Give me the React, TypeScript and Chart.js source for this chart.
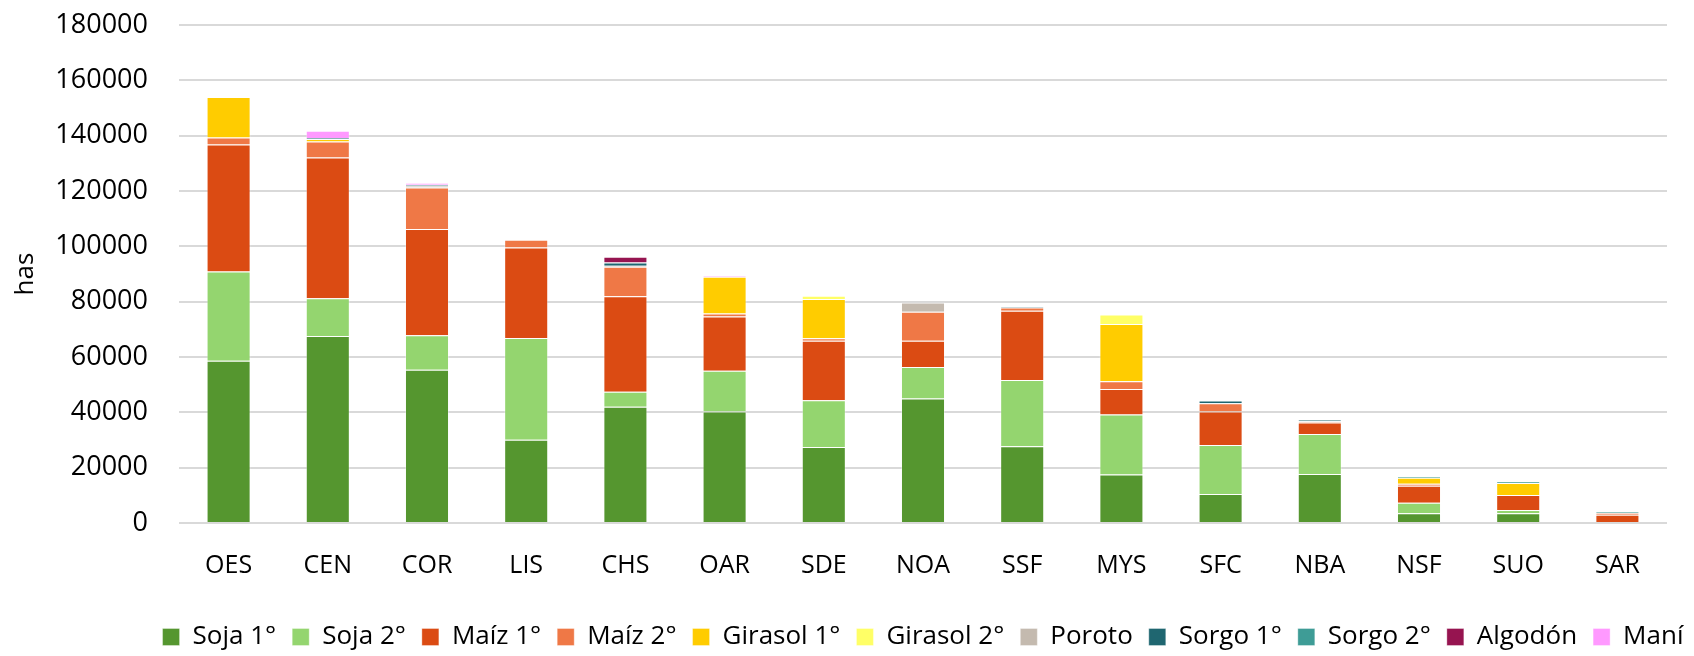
import React, { useEffect, useRef } from "react";
import { Chart, registerables } from "chart.js";

Chart.register(...registerables);

const regions = ["OES", "CEN", "COR", "LIS", "CHS", "OAR", "SDE", "NOA", "SSF", "MYS", "SFC", "NBA", "NSF", "SUO", "SAR"];

const soja1 = [58600, 67600, 55400, 30100, 42000, 40300, 27500, 45000, 27700, 17500, 10500, 17700, 3500, 3500, 0];
const soja2 = [32300, 13600, 12500, 36800, 5400, 14700, 16900, 11400, 24000, 21700, 17700, 14500, 3800, 1200, 0];
const maiz1 = [45900, 50900, 38400, 32700, 34600, 19600, 21500, 9500, 25000, 9200, 12100, 4100, 6200, 5400, 3000];
const maiz2 = [2550, 5800, 15000, 2800, 10600, 1100, 900, 10500, 1200, 2800, 3000, 500, 700, 0, 700];
const girasol1 = [14600, 900, 0, 0, 0, 13300, 14200, 0, 0, 20700, 0, 0, 2200, 4400, 0];
const girasol2 = [0, 0, 0, 0, 0, 0, 1100, 0, 0, 3500, 0, 0, 0, 0, 0];
const poroto = [0, 0, 600, 0, 400, 0, 0, 3300, 0, 0, 0, 0, 0, 0, 0];
const sorgo1 = [0, 400, 400, 0, 1200, 0, 0, 0, 300, 0, 1000, 500, 0, 0, 0];
const sorgo2 = [0, 0, 0, 0, 0, 0, 0, 0, 0, 0, 0, 0, 400, 500, 500];
const algodon = [0, 0, 0, 0, 2000, 0, 0, 0, 0, 0, 0, 0, 0, 0, 0];
const mani = [0, 2600, 600, 0, 0, 300, 0, 0, 0, 0, 0, 0, 0, 0, 0];

const yTicks = [0, 20000, 40000, 60000, 80000, 100000, 120000, 140000, 160000, 180000];

const series = [
  { label: "Soja 1°", data: soja1, color: "#55962F" },
  { label: "Soja 2°", data: soja2, color: "#94D56F" },
  { label: "Maíz 1°", data: maiz1, color: "#DB4B13" },
  { label: "Maíz 2°", data: maiz2, color: "#EF7846" },
  { label: "Girasol 1°", data: girasol1, color: "#FFCC00" },
  { label: "Girasol 2°", data: girasol2, color: "#FFFF66" },
  { label: "Poroto", data: poroto, color: "#C4BAAF" },
  { label: "Sorgo 1°", data: sorgo1, color: "#1F6670" },
  { label: "Sorgo 2°", data: sorgo2, color: "#3E9C96" },
  { label: "Algodón", data: algodon, color: "#961450" },
  { label: "Maní", data: mani, color: "#FF99FF" },
];

const FONT = "'Open Sans', 'DejaVu Sans', sans-serif";

const legendShift = {
  id: "legendShift",
  afterLayout(chart: any) {
    const lg = chart.legend;
    if (!lg) return;
    const dx = (chart.chartArea.left + chart.chartArea.right) / 2 - (lg.left + lg.right) / 2;
    lg.left += dx;
    lg.right += dx;
    if (lg.legendHitBoxes) lg.legendHitBoxes.forEach((b: any) => (b.left += dx));
  },
};

export default function App() {
  const ref = useRef<HTMLCanvasElement | null>(null);

  useEffect(() => {
    if (!ref.current) return;
    const chart = new Chart(ref.current, {
      type: "bar",
      data: {
        labels: regions,
        datasets: series.map((s) => ({
          label: s.label,
          data: s.data.map((v) => (v ? v : null)),
          backgroundColor: s.color,
          borderColor: "rgba(255,255,255,0.35)",
          borderWidth: 1,
          categoryPercentage: 1,
          barPercentage: 0.444,
        })),
      },
      plugins: [legendShift],
      options: {
        responsive: false,
        animation: false,
        layout: { padding: { left: 0, right: 27, top: 25, bottom: -4 } },
        plugins: {
          legend: {
            position: "bottom",
            labels: {
              font: { family: FONT, size: 26 },
              color: "#000",
              boxWidth: 17,
              boxHeight: 17,
              padding: 16,
            },
          },
          tooltip: { enabled: false },
        },
        scales: {
          x: {
            stacked: true,
            grid: { display: false, drawTicks: false },
            border: { display: false },
            ticks: { font: { family: FONT, size: 25 }, color: "#000", padding: 28 },
            afterFit: (scale: any) => {
              scale.height = 85;
            },
          },
          y: {
            stacked: true,
            min: 0,
            max: 180000,
            afterBuildTicks: (scale: any) => {
              scale.ticks = yTicks.map((v) => ({ value: v }));
            },
            grid: { color: "#D9D9D9", lineWidth: 2, drawTicks: true, tickLength: 28, tickColor: "rgba(0,0,0,0)" },
            border: { display: false },
            ticks: {
              font: { family: FONT, size: 27 },
              color: "#000",
              padding: 3,
              callback: (v: any) => String(v),
            },
            title: {
              display: true,
              text: "has",
              font: { family: FONT, size: 26 },
              color: "#000",
              padding: { top: 10, bottom: 0 },
            },
            afterFit: (scale: any) => {
              scale.width = 179;
            },
          },
        },
      },
    });
    return () => chart.destroy();
  }, []);

  return (
    <div style={{ position: "absolute", left: 0, top: 0, width: 1694, height: 656, background: "#fff" }}>
      <canvas ref={ref} width={1694} height={656} style={{ display: "block" }} />
    </div>
  );
}
